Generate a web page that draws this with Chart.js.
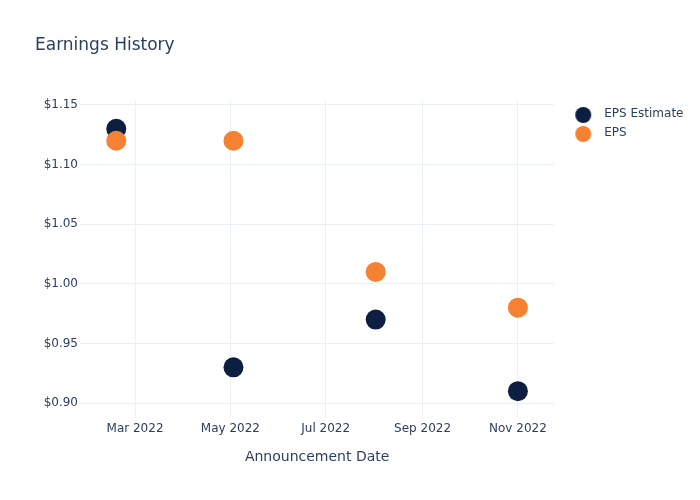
<!DOCTYPE html>
<html>
<head>
<meta charset="utf-8">
<title>Earnings History</title>
<script src="https://cdn.jsdelivr.net/npm/chart.js@4.4.1/dist/chart.umd.min.js"></script>
<style>
  html, body { margin: 0; padding: 0; background: #fff; }
  #chart { display: block; }
</style>
</head>
<body>
<canvas id="chart" width="700" height="500"></canvas>
<script>
// data
const announcementDates = ['2022-02-17', '2022-05-03', '2022-08-02', '2022-11-01'];
const epsEstimate = [1.13, 0.93, 0.97, 0.91];
const epsActual = [1.12, 1.12, 1.01, 0.98];
const monthTicks = ['2022-03-01', '2022-05-01', '2022-07-01', '2022-09-01', '2022-11-01'];
const monthLabels = ['Mar 2022', 'May 2022', 'Jul 2022', 'Sep 2022', 'Nov 2022'];
const dollarTicks = [0.90, 0.95, 1.00, 1.05, 1.10, 1.15];

const textColor = '#2a3f5f';
const gridColor = '#ebf0f8';
const navy = '#0c1f40';
const orange = '#f58233';

Chart.defaults.font.family = '"DejaVu Sans", Verdana, sans-serif';
Chart.defaults.color = textColor;

function toTime(d) {
    return Date.parse(d + 'T00:00:00Z');
}

function points(values) {
    return announcementDates.map((d, i) => ({x: toTime(d), y: values[i]}));
}

// legend marker: circle sitting inside a wider box so the text lands further right
function legendDot(color) {
    const c = document.createElement('canvas');
    c.width = 37;
    c.height = 20;
    const g = c.getContext('2d');
    g.fillStyle = color;
    g.beginPath();
    g.arc(22, 11, 8, 0, Math.PI * 2);
    g.fill();
    return c;
}

new Chart(document.getElementById('chart'), {
    type: 'scatter',
    data: {
        datasets: [{
            label: 'EPS Estimate',
            data: points(epsEstimate),
            backgroundColor: navy,
            borderColor: navy,
            borderWidth: 0,
            pointRadius: 10,
            pointHoverRadius: 10,
            order: 1
        }, {
            label: 'EPS',
            data: points(epsActual),
            backgroundColor: orange,
            borderColor: orange,
            borderWidth: 0,
            pointRadius: 10,
            pointHoverRadius: 10,
            order: 0
        }]
    },
    options: {
        responsive: false,
        animation: false,
        layout: {
            padding: {left: 35, right: 6.5, top: 1, bottom: 0}
        },
        plugins: {
            title: {
                display: true,
                text: 'Earnings History',
                align: 'start',
                color: textColor,
                font: {size: 17, weight: 'normal'},
                padding: {top: 34, bottom: 45.6}
            },
            legend: {
                position: 'right',
                align: 'start',
                fullSize: false,
                labels: {
                    color: textColor,
                    font: {size: 12},
                    usePointStyle: true,
                    pointStyleWidth: 37,
                    padding: 7,
                    generateLabels: function (chart) {
                        const items = Chart.defaults.plugins.legend.labels.generateLabels(chart);
                        items.sort((a, b) => a.datasetIndex - b.datasetIndex);
                        items.forEach(it => {
                            it.pointStyle = legendDot(chart.data.datasets[it.datasetIndex].backgroundColor);
                        });
                        return items;
                    }
                }
            },
            tooltip: {enabled: false}
        },
        scales: {
            x: {
                type: 'linear',
                min: Date.UTC(2022, 0, 24, 19),
                max: Date.UTC(2022, 10, 24, 6),
                grid: {color: gridColor, drawTicks: false},
                border: {display: false},
                ticks: {
                    padding: 4,
                    maxRotation: 0,
                    autoSkip: false,
                    font: {size: 12},
                    callback: function (value, index) {
                        return monthLabels[index];
                    }
                },
                afterBuildTicks: function (scale) {
                    scale.ticks = monthTicks.map(d => ({value: toTime(d)}));
                },
                afterFit: function (scale) {
                    scale.height = 82;
                },
                title: {
                    display: true,
                    text: 'Announcement Date',
                    color: textColor,
                    font: {size: 14},
                    padding: {top: 0, bottom: 34.6}
                }
            },
            y: {
                min: 0.8875,
                max: 1.1533,
                grid: {color: gridColor, drawTicks: false},
                border: {display: false},
                ticks: {
                    padding: 2,
                    font: {size: 12},
                    callback: function (value) {
                        return '$' + value.toFixed(2);
                    }
                },
                afterBuildTicks: function (scale) {
                    scale.ticks = dollarTicks.map(v => ({value: v}));
                },
                afterFit: function (scale) {
                    scale.width = 45;
                }
            }
        }
    }
});
</script>
</body>
</html>
